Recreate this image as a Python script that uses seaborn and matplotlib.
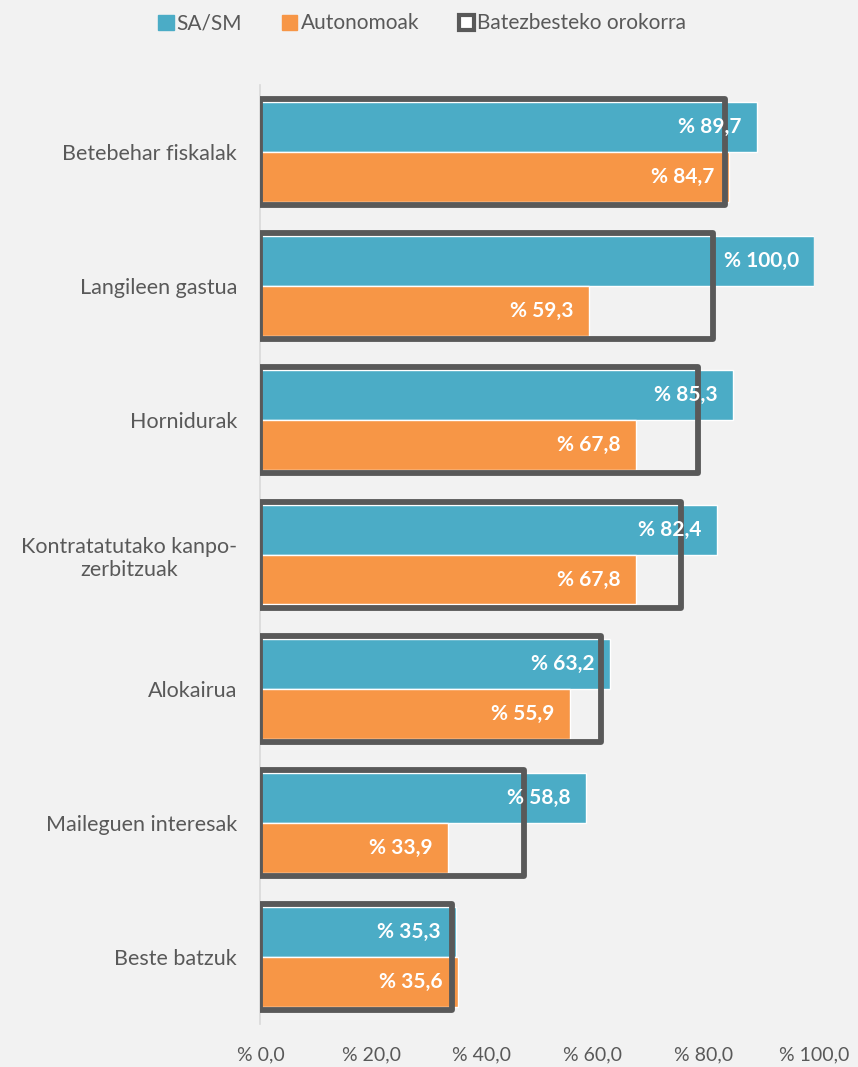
import matplotlib
matplotlib.use("Agg")
import matplotlib.pyplot as plt
from matplotlib.patches import Patch
import seaborn as sns
import pandas as pd

categories = [
    "Betebehar fiskalak",
    "Langileen gastua",
    "Hornidurak",
    "Kontratatutako kanpo-\nzerbitzuak",
    "Alokairua",
    "Maileguen interesak",
    "Beste batzuk",
]
sa_sm = [89.7, 100.0, 85.3, 82.4, 63.2, 58.8, 35.3]
autonomoak = [84.7, 59.3, 67.8, 67.8, 55.9, 33.9, 35.6]
batezbestekoa = [84.0, 81.8, 79.1, 76.0, 61.6, 47.6, 34.6]

series_names = ["SA/SM", "Autonomoak"]
overall_name = "Batezbesteko orokorra"
x_ticks = [0, 20, 40, 60, 80, 100]

BG = "#f2f2f2"
TEAL = "#4bacc6"
ORANGE = "#f79646"
DARK = "#595959"
TEXT = "#595959"


def pct(v):
    return "% " + f"{v:.1f}".replace(".", ",")


long_df = pd.DataFrame({
    "kategoria": categories * 2,
    "balioa": sa_sm + autonomoak,
    "taldea": [series_names[0]] * len(categories) + [series_names[1]] * len(categories),
})
overall_df = pd.DataFrame({"kategoria": categories, "balioa": batezbestekoa})

sns.set_theme(style="white")
plt.rcParams["font.family"] = ["Lato", "DejaVu Sans"]

fig = plt.figure(figsize=(8.58, 10.67), dpi=100, facecolor=BG)
ax = fig.add_axes([0.3036, 0.0403, 0.6451, 0.8800])
ax.set_facecolor(BG)

sns.barplot(
    data=long_df, y="kategoria", x="balioa", hue="taldea",
    order=categories, hue_order=series_names,
    palette=[TEAL, ORANGE], width=0.745, gap=0, dodge=True,
    saturation=1, orient="h", ax=ax, legend=False,
)

# value labels inside the end of each bar
for container in ax.containers:
    labels = [pct(v) for v in container.datavalues]
    ax.bar_label(container, labels=labels, label_type="edge", padding=-11,
                 color="white", fontsize=15, fontweight="bold")

# overall average drawn as a hollow outline around each group
n_before = len(ax.patches)
sns.barplot(
    data=overall_df, y="kategoria", x="balioa", order=categories,
    width=0.79, fill=False, color=DARK, linewidth=4.2, saturation=1,
    orient="h", ax=ax,
)
for p in ax.patches[n_before:]:
    p.set_joinstyle("round")
    p.set_edgecolor(DARK)
    p.set_zorder(5)

# right-align the value labels at the bar end
for t in ax.texts:
    t.set_ha("right")
    t.set_zorder(6)

ax.set_xlim(0, 100)
ax.set_ylim(6.5, -0.5)
ax.set_xticks(x_ticks)
ax.set_xticklabels([pct(v) for v in x_ticks], color=TEXT, fontsize=14)
ax.set_yticks(range(len(categories)))
ax.set_yticklabels(categories, color=TEXT, fontsize=15.5, multialignment="center")
ax.tick_params(axis="x", length=0, pad=16)
ax.tick_params(axis="y", length=0, pad=17)
ax.set_xlabel("")
ax.set_ylabel("")
for side in ["top", "right", "bottom"]:
    ax.spines[side].set_visible(False)
ax.spines["left"].set_color("#d9d9d9")
ax.spines["left"].set_linewidth(1.2)

handles = [
    Patch(facecolor=TEAL, edgecolor=TEAL, label=series_names[0]),
    Patch(facecolor=ORANGE, edgecolor=ORANGE, label=series_names[1]),
    Patch(facecolor="white", edgecolor=DARK, linewidth=3, label=overall_name),
]
fig.legend(handles=handles, loc="center", bbox_to_anchor=(0.492, 0.978),
           ncol=3, frameon=False, fontsize=15, labelcolor=TEXT,
           handlelength=0.75, handleheight=0.75, handletextpad=0.15,
           columnspacing=1.9)

fig.savefig("out.png", dpi=100, facecolor=BG)
